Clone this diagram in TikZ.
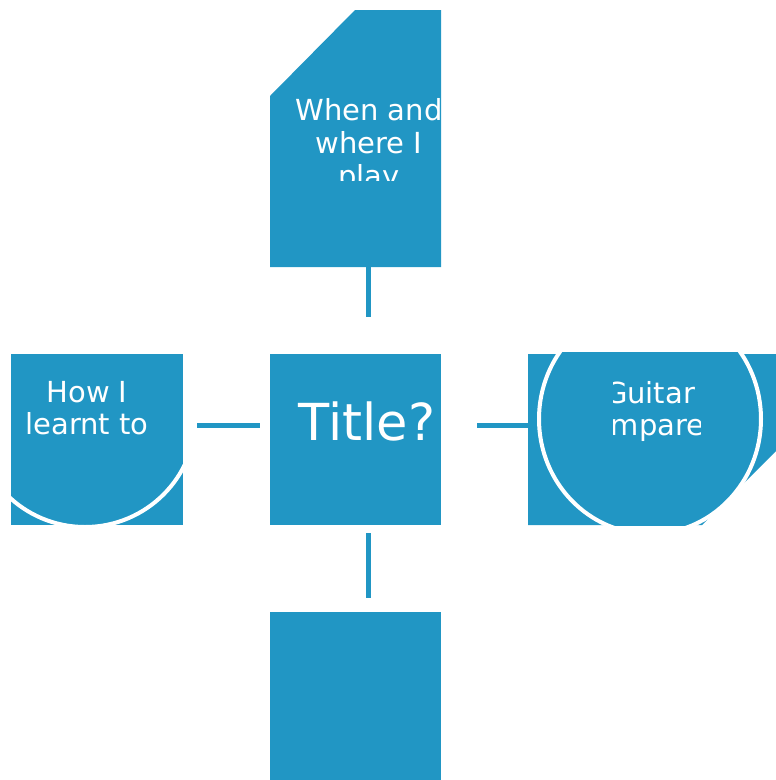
\documentclass[tikz,border=0pt]{standalone}
\usepackage{fontspec}
\setmainfont{DejaVu Sans}
\definecolor{sablue}{RGB}{33,150,196}
\begin{document}
\begin{tikzpicture}[x=1pt,y=-1pt,
  shapefill/.style={fill=sablue,draw=none},
  conn/.style={draw=sablue,line width=5pt},
  lbl/.style={text=white,font=\fontsize{29}{33}\selectfont,anchor=base,inner sep=0pt},
  titlelbl/.style={text=white,font=\fontsize{51}{60}\selectfont,anchor=base,inner sep=0pt},
  ring/.style={draw=white,line width=4pt,fill=sablue}]
\useasboundingbox (0,0) rectangle (776,780);

% shapes
\fill[shapefill] (355,10) -- (441,10) -- (441,267) -- (270,267) -- (270,96) -- cycle;
\node[shapefill,minimum width=171pt,minimum height=171pt,inner sep=0pt] (center) at (355.5,439.5) {};
\node[shapefill,minimum width=172pt,minimum height=171pt,inner sep=0pt] (leftbox) at (97,439.5) {};
\node[shapefill,minimum width=171pt,minimum height=168pt,inner sep=0pt] (bottom) at (355.5,696) {};
\fill[shapefill] (528,354) -- (776,354) -- (776,451) -- (702,525) -- (528,525) -- cycle;

% left arc
\begin{scope}
  \clip (11,440) rectangle (183,525);
  \draw[draw=white,line width=4pt] (85,416) circle[radius=111];
\end{scope}

% right ring
\begin{scope}
  \clip (500,352) rectangle (776,525);
  \draw[ring] (650,419) ellipse[x radius=111,y radius=115];
\end{scope}

% connectors
\coordinate (t1) at (368.5,267); \coordinate (t2) at (368.5,317);
\coordinate (b1) at (368.5,533); \coordinate (b2) at (368.5,598);
\coordinate (l1) at (197,425);   \coordinate (l2) at (260,425);
\coordinate (r1) at (477,425);   \coordinate (r2) at (528,425);
\draw[conn] (t1) -- (t2);
\draw[conn] (b1) -- (b2);
\draw[conn] (l1) -- (l2);
\draw[conn] (r1) -- (r2);

% texts
\begin{scope}
  \clip (270,10) rectangle (441,180);
  \node[lbl] (tt1) at (369,120) {When and};
  \node[lbl] (tt2) at (369,153) {where I};
  \node[lbl] (tt3) at (369,186) {play};
\end{scope}
\begin{scope}
  \clip (270,354) rectangle (441,525);
  \node[titlelbl] (title) at (367,440) {Title?};
\end{scope}
\node[lbl] (lt1) at (87,402) {How I};
\node[lbl] (lt2) at (87,434) {learnt to};
\begin{scope}
  \clip (613,354) rectangle (700,525);
  \node[lbl] (rt1) at (650,403) {Guitar};
  \node[lbl] (rt2) at (650,435) {compared};
\end{scope}
\end{tikzpicture}
\end{document}
